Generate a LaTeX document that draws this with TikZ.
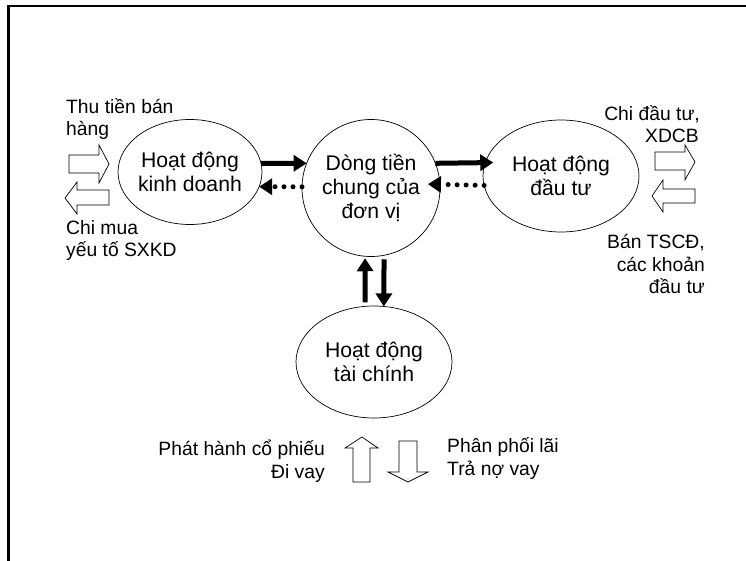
\documentclass[tikz,border=0pt]{standalone}
\usepackage{fontspec}
\setmainfont{Liberation Sans}
\usetikzlibrary{shapes.geometric,arrows.meta}
\begin{document}
\begin{tikzpicture}[x=1pt,y=-1pt,
 ell/.style={ellipse,draw,line width=0.7pt,inner sep=-12pt,outer sep=0pt,align=center,font=\fontsize{21.2}{24}\selectfont},
 lbl/.style={inner sep=0pt,font=\fontsize{19.3}{22.5}\selectfont},
 solidarr/.style={line width=5pt,-{Triangle[length=13pt,width=16pt]}},
 dotarr/.style={line width=5pt,line cap=round,dash pattern=on 0pt off 9pt,-{Triangle[length=13pt,width=16pt]}},
 hollow/.style={draw,line width=0.7pt,fill=white,line join=miter}]
\useasboundingbox (0,0) rectangle (746,561);
\draw[line width=2.5pt] (8.5,561) -- (8.5,6) -- (746,6);

% activity nodes
\node[ell,minimum width=144pt,minimum height=105pt] (kd) at (190,172) {Hoạt động\\kinh doanh};
\node[ell,minimum width=138pt,minimum height=137pt] (dt) at (371,188) {Dòng tiền\\chung của\\đơn vị};
\node[ell,minimum width=156pt,minimum height=112pt] (da) at (561,176) {Hoạt động\\đầu tư};
\node[ell,minimum width=156pt,minimum height=112pt] (tc) at (374,362) {Hoạt động\\tài chính};

% connectors
\draw[solidarr] (kd.7) -- (dt.159);
\draw[dotarr] (dt.179) -- (kd.-12);
\draw[solidarr,shorten >=-8pt] (dt.21) -- (da.170);
\draw[dotarr,shorten >=-12pt] (da.187) -- (dt.3);
\draw[solidarr,shorten <=4pt,shorten >=2pt] (tc.99) -- (dt.265);
\draw[solidarr,shorten <=4pt] (dt.281) -- (tc.80);

% hollow block arrows
\draw[hollow] (69,155) -- (99,155) -- (99,145) -- (109,164) -- (99,183) -- (99,173) -- (69,173) -- cycle;
\draw[hollow] (109,190) -- (77,190) -- (77,182) -- (65,198) -- (77,214) -- (77,205) -- (109,205) -- cycle;
\draw[hollow] (655,152) -- (685,152) -- (685,145) -- (695,162) -- (685,180) -- (685,170) -- (655,170) -- cycle;
\draw[hollow] (695,189) -- (663,189) -- (663,180) -- (652,196) -- (663,212) -- (663,203) -- (695,203) -- cycle;
\draw[hollow] (353,482) -- (353,448) -- (345,448) -- (362,437) -- (378,448) -- (370,448) -- (370,482) -- cycle;
\draw[hollow] (399,441) -- (417,441) -- (417,472) -- (428,472) -- (408,482) -- (388,472) -- (399,472) -- cycle;

% labels
\node[lbl,anchor=base west] (l1) at (66,114) {Thu tiền bán};
\node[lbl,anchor=base west] (l2) at (66,136) {hàng};
\node[lbl,anchor=base west] (l3) at (66,234) {Chi mua};
\node[lbl,anchor=base west] (l4) at (66,256) {yếu tố SXKD};
\node[lbl,anchor=base east] (r1) at (700,121) {Chi đầu tư,};
\node[lbl,anchor=base east] (r2) at (699,143) {XDCB};
\node[lbl,anchor=base east] (r3) at (705,248) {Bán TSCĐ,};
\node[lbl,anchor=base east] (r4) at (705,271) {các khoản};
\node[lbl,anchor=base east] (r5) at (705,293) {đầu tư};
\node[lbl,anchor=base east] (b1) at (325,455) {Phát hành cổ phiếu};
\node[lbl,anchor=base east] (b2) at (325,478) {Đi vay};
\node[lbl,anchor=base west] (b3) at (447,452) {Phân phối lãi};
\node[lbl,anchor=base west] (b4) at (447,475) {Trả nợ vay};
\end{tikzpicture}
\end{document}
